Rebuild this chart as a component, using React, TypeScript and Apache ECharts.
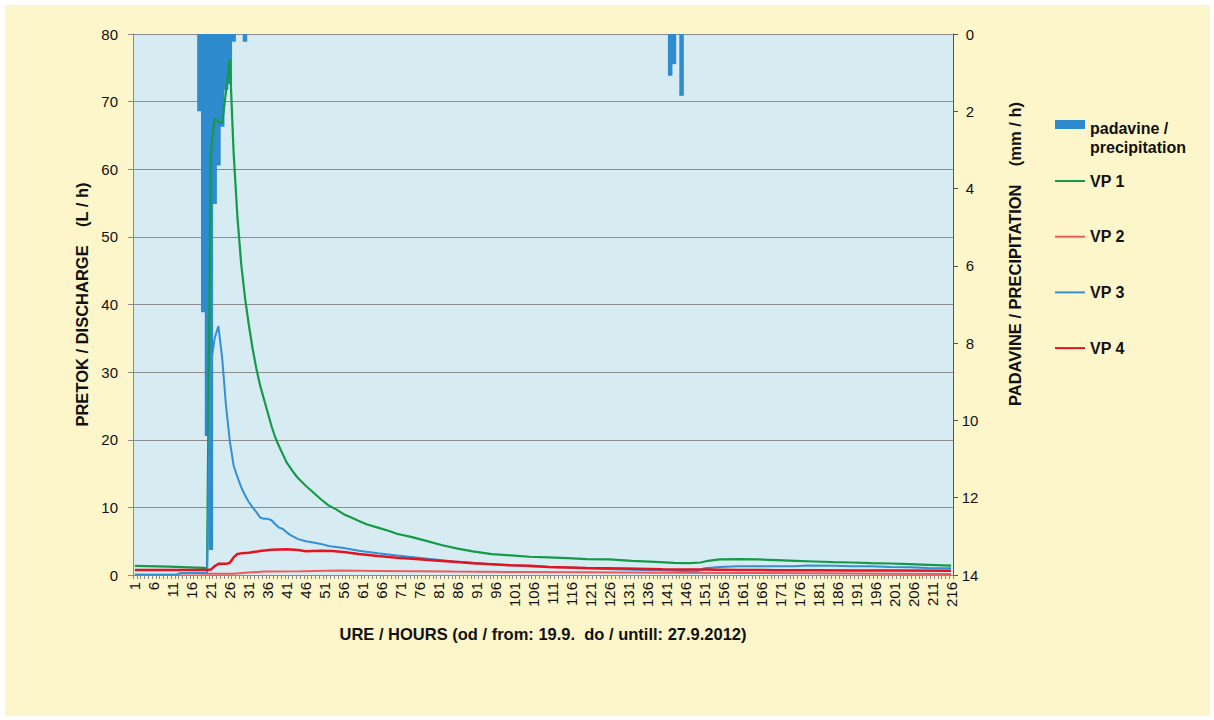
import React, { useEffect, useRef } from "react";
import * as echarts from "echarts";

// categories: hours 1..216
const hours: string[] = Array.from({ length: 216 }, (_, i) => String(i + 1));

// precipitation (mm / h) read at given hours
const precipHours = [18, 19, 20, 21, 22, 23, 24, 25, 26, 27, 30, 142, 143, 145];
const precipValues = [2.0, 7.2, 10.4, 13.35, 4.4, 3.4, 2.4, 1.45, 1.3, 0.2, 0.2, 1.08, 0.78, 1.6];

// VP 1 (L / h)
const vp1Hours = [1, 10, 19, 20, 21, 22, 23, 24, 25, 26, 27, 28, 29, 30, 31, 32, 33, 34, 35, 36, 37, 38, 39, 40, 41, 42, 43, 44, 46, 48, 50, 52, 54, 56, 58, 60, 62, 65, 68, 70, 74, 78, 82, 86, 90, 95, 100, 105, 110, 115, 120, 126, 132, 138, 143, 147, 150, 152, 155, 160, 165, 170, 175, 180, 185, 190, 195, 200, 205, 210, 216];
const vp1Values = [1.35, 1.25, 1.05, 1.0, 62.5, 67.5, 67.0, 66.8, 71.5, 76.3, 62.5, 53, 46, 41, 37, 33.5, 30.5, 28, 26, 24, 22, 20.3, 19, 17.8, 16.6, 15.8, 15.0, 14.3, 13.2, 12.2, 11.2, 10.3, 9.7, 9.0, 8.5, 8.0, 7.5, 7.0, 6.5, 6.1, 5.6, 5.0, 4.4, 3.9, 3.5, 3.1, 2.9, 2.7, 2.6, 2.5, 2.35, 2.3, 2.1, 1.95, 1.8, 1.75, 1.85, 2.1, 2.3, 2.35, 2.3, 2.2, 2.1, 2.0, 1.9, 1.85, 1.75, 1.7, 1.6, 1.5, 1.38];

// VP 2 (L / h)
const vp2Hours = [1, 12, 13, 20, 27, 30, 35, 45, 55, 65, 75, 85, 100, 120, 140, 160, 180, 200, 216];
const vp2Values = [0.05, 0.05, 0.25, 0.2, 0.2, 0.35, 0.5, 0.55, 0.65, 0.6, 0.55, 0.5, 0.45, 0.4, 0.35, 0.3, 0.25, 0.2, 0.15];

// VP 3 (L / h)
const vp3Hours = [1, 12, 13, 20, 21, 22, 23, 24, 25, 26, 27, 28, 29, 30, 31, 32, 33, 34, 35, 36, 37, 38, 39, 40, 41, 42, 43, 44, 46, 48, 50, 52, 56, 60, 65, 70, 75, 80, 85, 90, 95, 100, 105, 110, 115, 120, 125, 130, 135, 140, 145, 149, 151, 155, 160, 170, 175, 178, 185, 190, 195, 200, 205, 210, 216];
const vp3Values = [0.05, 0.05, 0.3, 0.3, 31, 35, 36.8, 32, 25, 19.8, 16.2, 14.5, 13.0, 11.8, 10.8, 10.0, 9.3, 8.5, 8.3, 8.3, 8.1, 7.5, 7.0, 6.8, 6.3, 5.9, 5.6, 5.3, 5.0, 4.8, 4.6, 4.3, 4.0, 3.6, 3.2, 2.9, 2.6, 2.3, 2.0, 1.8, 1.6, 1.45, 1.3, 1.2, 1.1, 1.0, 0.9, 0.8, 0.75, 0.7, 0.6, 0.5, 1.0, 1.2, 1.3, 1.3, 1.3, 1.4, 1.35, 1.3, 1.3, 1.2, 1.15, 1.05, 1.0];

// VP 4 (L / h)
const vp4Hours = [1, 20, 21, 22, 23, 24, 25, 26, 27, 28, 29, 31, 34, 37, 41, 44, 46, 48, 50, 53, 56, 60, 65, 70, 75, 80, 85, 90, 95, 100, 105, 110, 120, 130, 140, 150, 160, 170, 180, 190, 200, 216];
const vp4Values = [0.75, 0.75, 0.8, 1.3, 1.65, 1.65, 1.65, 1.8, 2.6, 3.1, 3.2, 3.3, 3.55, 3.75, 3.8, 3.7, 3.5, 3.55, 3.6, 3.55, 3.4, 3.1, 2.8, 2.55, 2.35, 2.15, 1.95, 1.75, 1.6, 1.45, 1.35, 1.2, 1.05, 0.95, 0.85, 0.8, 0.75, 0.72, 0.7, 0.68, 0.66, 0.64];

const pairs = (hs: number[], vs: number[]) => hs.map((h, i) => [h - 1, vs[i]]);

const FONT = "'Liberation Sans', Arial, sans-serif";

export default function App() {
  const ref = useRef<HTMLDivElement>(null);
  useEffect(() => {
    if (!ref.current) return;
    const chart = echarts.init(ref.current, undefined, { renderer: "svg" });
    const nameText = { fontFamily: FONT, fontWeight: "bold" as const, fontSize: 16.5, color: "#111" };
    const legendText = { fontFamily: FONT, fontWeight: "bold" as const, fontSize: 16, color: "#111" };
    chart.setOption({
      animation: false,
      backgroundColor: "#ffffff",
      textStyle: { fontFamily: FONT },
      graphic: [
        { type: "rect", z: -10, shape: { x: 5, y: 5, width: 1205, height: 711 }, style: { fill: "#fdf6cb" } },
        {
          type: "text",
          x: 1015,
          y: 254,
          rotation: Math.PI / 2,
          style: { text: "PADAVINE / PRECIPITATION    (mm / h)", font: "bold 16.5px 'Liberation Sans', Arial, sans-serif", fill: "#111", align: "center", verticalAlign: "middle" },
        },
      ],
      grid: { left: 133, right: 261, top: 34, bottom: 145, show: true, backgroundColor: "#d6ebf2", borderWidth: 0 },
      legend: [
        {
          orient: "vertical",
          left: 1055,
          top: 118.5,
          padding: 0,
          itemWidth: 30,
          itemHeight: 38,
          data: [
            {
              name: "padavine /\nprecipitation",
              icon: "path://M0,3L30,3L30,12L0,12Z M0,38L0.01,38L0.01,38.01Z",
            },
          ],
          textStyle: { ...legendText, lineHeight: 19 },
        },
        {
          orient: "vertical",
          left: 1055,
          top: 172,
          padding: 0,
          itemWidth: 30,
          itemHeight: 2,
          itemGap: 37.7,
          data: [
            { name: "VP 1", icon: "rect" },
            { name: "VP 2", icon: "rect" },
            { name: "VP 3", icon: "rect" },
            { name: "VP 4", icon: "rect" },
          ],
          textStyle: { ...legendText, lineHeight: 18 },
        },
      ],
      xAxis: {
        type: "category",
        data: hours,
        boundaryGap: true,
        name: "URE / HOURS (od / from: 19.9.  do / untill: 27.9.2012)",
        nameLocation: "middle",
        nameGap: 50,
        nameTextStyle: nameText,
        axisLine: { lineStyle: { color: "#8a8a8a", width: 1 } },
        axisTick: { show: true, interval: 0, length: 4, lineStyle: { color: "#8a8a8a" } },
        axisLabel: { interval: 4, rotate: 90, fontSize: 15, color: "#111", fontFamily: FONT, margin: 7 },
        splitLine: { show: false },
      },
      yAxis: [
        {
          type: "value",
          min: 0,
          max: 80,
          interval: 10,
          name: "PRETOK / DISCHARGE    (L / h)",
          nameLocation: "middle",
          nameRotate: 90,
          nameGap: 40,
          nameTextStyle: nameText,
          axisLine: { show: true, lineStyle: { color: "#8a8a8a" } },
          axisTick: { show: true, length: 5, lineStyle: { color: "#8a8a8a" } },
          axisLabel: { fontSize: 15, color: "#111", fontFamily: FONT, margin: 15 },
          splitLine: { show: true, lineStyle: { color: "#8c8c8c", width: 1 } },
        },
        {
          type: "value",
          min: 0,
          max: 14,
          interval: 2,
          inverse: true,
          position: "right",
          axisLine: { show: true, lineStyle: { color: "#555" } },
          axisTick: { show: true, length: 5, lineStyle: { color: "#555" } },
          axisLabel: { fontSize: 15, color: "#111", fontFamily: FONT, margin: 17, align: "center" },
          splitLine: { show: false },
        },
      ],
      series: [
        {
          name: "padavine /\nprecipitation",
          type: "bar",
          yAxisIndex: 1,
          barWidth: 4.5,
          itemStyle: { color: "#2e8bcd" },
          data: pairs(precipHours, precipValues),
        },
        {
          name: "VP 1",
          type: "line",
          symbol: "none",
          color: "#149a48",
          lineStyle: { color: "#149a48", width: 2.2 },
          data: pairs(vp1Hours, vp1Values),
        },
        {
          name: "VP 2",
          type: "line",
          symbol: "none",
          color: "#ee5a5a",
          lineStyle: { color: "#ee5a5a", width: 2 },
          data: pairs(vp2Hours, vp2Values),
        },
        {
          name: "VP 3",
          type: "line",
          symbol: "none",
          color: "#3590d3",
          lineStyle: { color: "#3590d3", width: 2 },
          data: pairs(vp3Hours, vp3Values),
        },
        {
          name: "VP 4",
          type: "line",
          symbol: "none",
          color: "#e3141f",
          lineStyle: { color: "#e3141f", width: 2.5 },
          data: pairs(vp4Hours, vp4Values),
        },
      ],
    });
    return () => chart.dispose();
  }, []);
  return <div ref={ref} style={{ position: "absolute", left: 0, top: 0, width: 1214, height: 720 }} />;
}
